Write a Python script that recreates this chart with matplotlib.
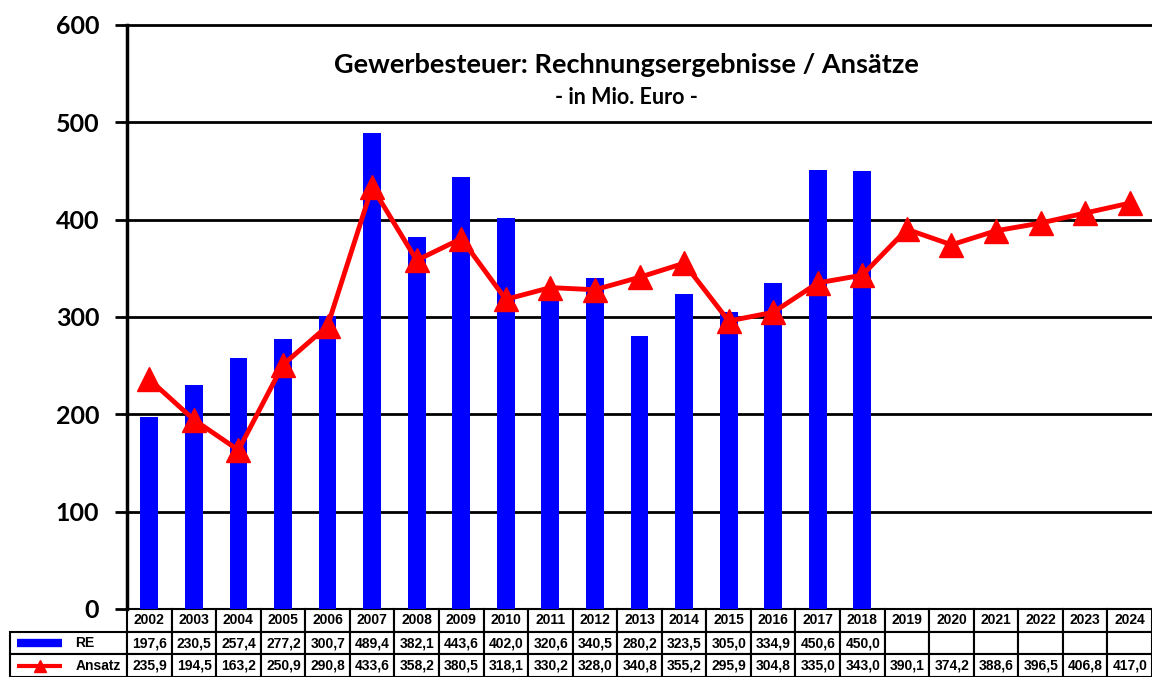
import numpy as np
import matplotlib.pyplot as plt
from matplotlib.lines import Line2D

years = [str(y) for y in range(2002, 2025)]
re_vals = [197.6, 230.5, 257.4, 277.2, 300.7, 489.4, 382.1, 443.6, 402.0, 320.6,
           340.5, 280.2, 323.5, 305.0, 334.9, 450.6, 450.0]
ansatz = [235.9, 194.5, 163.2, 250.9, 290.8, 433.6, 358.2, 380.5, 318.1, 330.2,
          328.0, 340.8, 355.2, 295.9, 304.8, 335.0, 343.0, 390.1, 374.2, 388.6,
          396.5, 406.8, 417.0]
yticks = [0, 100, 200, 300, 400, 500, 600]

def fmt(v):
    return f"{v:.1f}".replace('.', ',')

#%%
fig = plt.figure(figsize=(11.52, 6.77), dpi=100)
ax = fig.add_axes([127/1152, 1 - 609/677, 1025/1152, 584/677])

x = np.arange(len(years))
ax.bar(x[:len(re_vals)], re_vals, width=0.4, color='#0000ff', zorder=2)
ax.plot(x, ansatz, color='#ff0000', lw=3.5, marker='^', markersize=17,
        markeredgecolor='#ff0000', zorder=3)

ax.set_xlim(-0.5, len(years) - 0.5)
ax.set_ylim(0, 600)
ax.set_yticks(yticks)
ax.set_xticks([])
for v in yticks[1:]:
    ax.axhline(v, color='black', lw=2, zorder=1, clip_on=False)
for s in ['top', 'right', 'bottom']:
    ax.spines[s].set_visible(False)
ax.spines['left'].set_linewidth(2.5)
ax.tick_params(axis='y', length=9, width=2, direction='out', pad=11)
for lab in ax.get_yticklabels():
    lab.set_fontfamily('Lato')
    lab.set_fontweight('bold')
    lab.set_fontsize(18)

ax.text(0.487, 0.932, 'Gewerbesteuer: Rechnungsergebnisse / Ansätze', transform=ax.transAxes,
        ha='center', va='center', fontsize=19.5, fontweight='bold', family='Lato')
ax.text(0.487, 0.875, '- in Mio. Euro -', transform=ax.transAxes,
        ha='center', va='center', fontsize=15.5, fontweight='bold', family='Lato')

# table below
cell_text = [[fmt(v) for v in re_vals] + [''] * (len(years) - len(re_vals)),
             [fmt(v) for v in ansatz]]
tab_h = 68/584
tab = ax.table(cellText=cell_text, rowLabels=['RE', 'Ansatz'], colLabels=years,
               bbox=[0, -tab_h, 1, tab_h])
tab.auto_set_font_size(False)
tab._autoColumns = []
for (r, c), cell in tab.get_celld().items():
    cell.set_linewidth(1.5)
    cell.set_height(tab_h / 3)
    cell.set_text_props(fontsize=10, fontweight='bold', family='Liberation Sans')
    if c == -1:
        cell.set_width(117/1025)
        cell._loc = 'left'
        cell.PAD = 0.56
    else:
        cell.set_width(1/23)

# legend keys in row label cells
ax.add_line(Line2D([-110/1025, -65/1025], [-34/584, -34/584], color='#0000ff', lw=6,
                   solid_capstyle='butt', transform=ax.transAxes, clip_on=False))
ax.add_line(Line2D([-110/1025, -65/1025], [-57/584, -57/584], color='#ff0000', lw=3,
                   solid_capstyle='butt', transform=ax.transAxes, clip_on=False))
ax.add_line(Line2D([-87.5/1025], [-57/584], color='#ff0000', marker='^', markersize=8,
                   transform=ax.transAxes, clip_on=False))

fig.savefig('out.png', dpi=100)
